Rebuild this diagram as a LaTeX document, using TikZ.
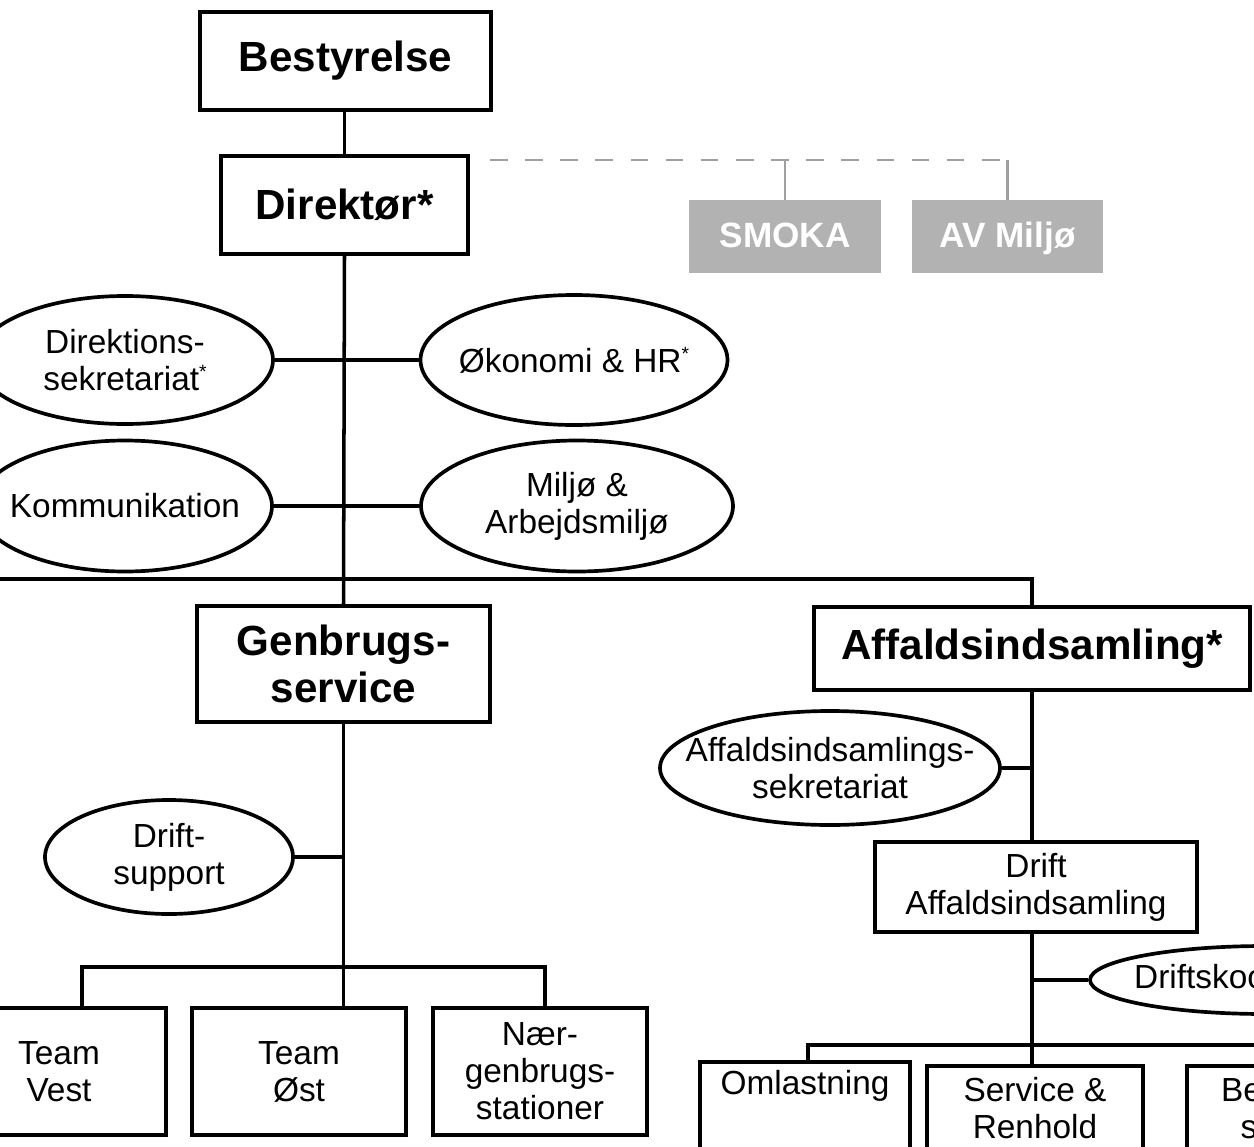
\documentclass[tikz,border=0pt]{standalone}
\usepackage{fontspec}
\setmainfont{Liberation Sans}
\usetikzlibrary{shapes.geometric}
\definecolor{boxgray}{RGB}{178,178,178}
\definecolor{dashgray}{RGB}{160,160,160}
\newcommand\smallast{\raisebox{0.35em}{\fontsize{11}{11}\selectfont *}}
\begin{document}
\begin{tikzpicture}[x=0.02cm,y=-0.02cm,
  sz/.style 2 args={minimum width=#1*0.02cm, minimum height=#2*0.02cm},
  rbox/.style={draw, line width=2.3pt, inner sep=0pt, align=center},
  ell/.style={draw, ellipse, line width=2.1pt, inner sep=0pt},
  gbox/.style={fill=boxgray, inner sep=0pt, text=white, text height=13pt, text depth=0pt, font=\fontsize{20}{22}\selectfont\bfseries},
  conn/.style={line width=2pt},
  dashline/.style={line width=1.6pt, dashgray, dash pattern=on 10pt off 10pt},
  tick/.style={line width=1.6pt, dashgray},
  bigf/.style={font=\fontsize{24}{27}\selectfont\bfseries},
  regf/.style={font=\fontsize{19}{21}\selectfont},
  etext/.style={regf, align=center}]

\useasboundingbox (0,0) rectangle (1254,1146);
\clip (0,0) rectangle (1254,1146);

% top level
\node[rbox,bigf,sz={291}{98}] (best) at (345.5,61) {Bestyrelse};
\node[rbox,bigf,sz={247}{98}] (dir) at (344.5,205) {Direktør*};
\node[gbox,sz={192}{73}] (smoka) at (785,236.5) {SMOKA};
\node[gbox,sz={191}{73}] (avm) at (1007.5,236.5) {AV Miljø};
\coordinate (dstart) at (490,160);

% staff ellipses
\node[ell,sz={296}{128},label={[etext]center:{Direktions-\\sekretariat\smallast}}] (ds) at (125,360) {};
\node[ell,sz={307}{130},label={[etext]center:{Økonomi \& HR\smallast}}] (ok) at (574,360) {};
\node[ell,sz={294}{131},label={[etext]center:{Kommunikation}}] (kom) at (125,506) {};
\node[ell,sz={312}{131},label={[etext]center:{Miljø \&\\Arbejdsmiljø}}] (mil) at (577,506) {};

% departments
\node[rbox,bigf,sz={293}{116}] (genb) at (343.5,664) {Genbrugs-\\service};
\node[rbox,bigf,sz={436}{83}] (aff) at (1032,648.5) {Affaldsindsamling*};
\coordinate (lbr) at (-60,579);

% Genbrugsservice branch
\node[ell,sz={248}{114},label={[etext]center:{Drift-\\support}}] (dsup) at (169,857) {};
\node[rbox,regf,sz={214}{127}] (tv) at (59,1071.5) {Team\\Vest};
\node[rbox,regf,sz={214}{127}] (to) at (299,1071.5) {Team\\Øst};
\node[rbox,regf,sz={214}{127}] (nr) at (540,1071.5) {Nær-\\genbrugs-\\stationer};
\coordinate (jl) at (82,967);
\coordinate (jr) at (545,967);

% Affaldsindsamling branch
\node[ell,sz={340}{114},label={[etext]center:{Affaldsindsamlings-\\sekretariat}}] (aser) at (830,768) {};
\node[rbox,regf,sz={322}{90}] (drift) at (1036,887) {Drift\\Affaldsindsamling};
\node[ell,sz={350}{68},label={[etext]center:{Driftskoordinering}}] (dk) at (1265,980) {};
\node[rbox,regf,sz={210}{88}] (oml) at (805,1106) {Omlastning\\\strut};
\node[rbox,regf,sz={216}{84}] (sr) at (1035,1108) {Service \&\\Renhold};
\node[rbox,regf,sz={213}{84}] (be) at (1293.5,1108) {Beholder-\\service};
\coordinate (bl) at (808,1045);
\coordinate (br) at (1293.5,1045);

% connectors
\draw[conn] (dir.north |- best.south) -- (dir.north);
\draw[conn] (dir.south) -- (genb.north);
\draw[dashline] (dstart) -- (dstart -| avm.north);
\draw[tick] (smoka.north) -- (smoka.north |- dstart);
\draw[tick] (avm.north) -- (avm.north |- dstart);
\draw[conn] (ds.east) -- (ok.west);
\draw[conn] (kom.east) -- (mil.west);
\draw[conn] (lbr) -| (aff.north);
\draw[conn] (dsup.east) -- (dsup.east -| genb.south);
\draw[conn] (genb.south) -- (genb.south |- to.north);
\draw[conn] (jl |- tv.north) -- (jl) -- (jr) -- (jr |- nr.north);
\draw[conn] (aff.south) -- (aff.south |- drift.north);
\draw[conn] (aser.east) -- (aser.east -| aff.south);
\draw[conn] (aff.south |- drift.south) -- (aff.south |- sr.north);
\draw[conn] (dk.west) -- (dk.west -| aff.south);
\draw[conn] (bl |- oml.north) -- (bl) -- (br) -- (br |- be.north);
\end{tikzpicture}
\end{document}
